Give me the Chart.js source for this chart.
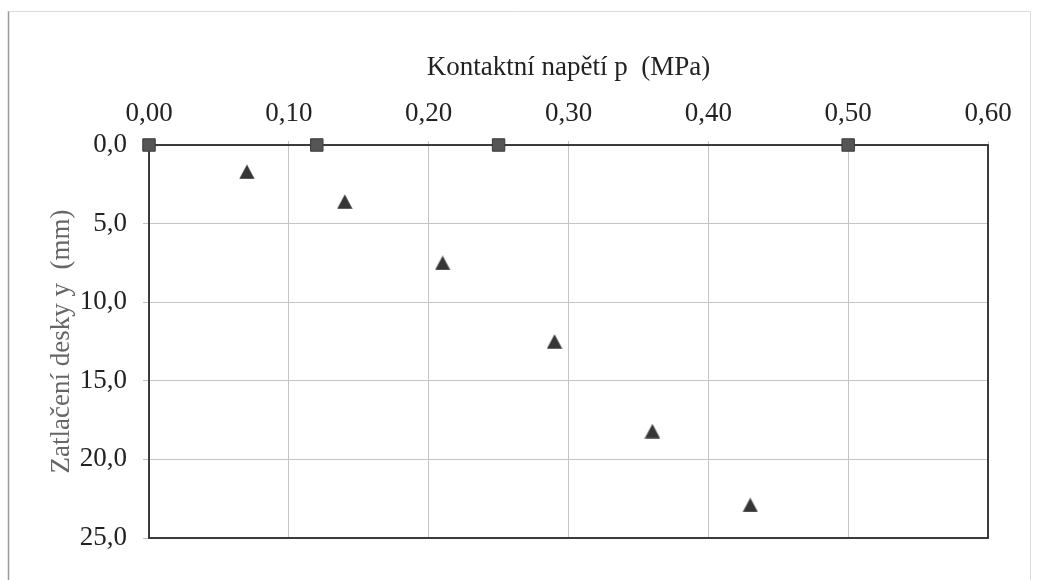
<!DOCTYPE html>
<html>
<head>
<meta charset="utf-8">
<script src="https://cdn.jsdelivr.net/npm/chart.js@4.4.1/dist/chart.umd.min.js"></script>
<style>
  html, body { margin: 0; padding: 0; background: #fff; }
  #wrap { width: 1037px; height: 580px; position: relative; }
</style>
</head>
<body>
<div id="wrap"><canvas id="c" width="1037" height="580"></canvas></div>
<script>
// Data
const pressureSquares = [0.00, 0.12, 0.25, 0.50];
const settlementSquares = [0, 0, 0, 0];
const pressureTriangles = [0.07, 0.14, 0.21, 0.29, 0.36, 0.43];
const settlementTriangles = [1.7, 3.6, 7.5, 12.5, 18.2, 22.9];
const xTitle = 'Kontaktní napětí p  (MPa)';
const yTitle = 'Zatlačení desky y  (mm)';

const toPts = (xs, ys) => xs.map((x, i) => ({ x: x, y: ys[i] }));

// Triangle marker centred on its bounding box (like the reference)
function makeTriangle(w, h, fill) {
  const cv = document.createElement('canvas');
  cv.width = w; cv.height = h;
  const g = cv.getContext('2d');
  g.fillStyle = fill;
  g.beginPath();
  g.moveTo(w / 2, 0.3);
  g.lineTo(w - 0.3, h - 0.3);
  g.lineTo(0.3, h - 0.3);
  g.closePath();
  g.fill();
  return cv;
}
const triMarker = makeTriangle(16, 15, '#363636');

const framePlugin = {
  id: 'frame',
  beforeDraw(chart) {
    const ctx = chart.ctx;
    ctx.save();
    ctx.fillStyle = '#ffffff';
    ctx.fillRect(0, 0, chart.width, chart.height);
    ctx.strokeStyle = '#9a9a9a';
    ctx.lineWidth = 1.5;
    ctx.beginPath();
    ctx.moveTo(8.5, 580);
    ctx.lineTo(8.5, 11);
    ctx.stroke();
    ctx.strokeStyle = '#dcdcdc';
    ctx.lineWidth = 1;
    ctx.beginPath();
    ctx.moveTo(8.5, 11.5);
    ctx.lineTo(1030.5, 11.5);
    ctx.lineTo(1030.5, 580);
    ctx.stroke();
    ctx.restore();
  },
  beforeDatasetsDraw(chart) {
    const a = chart.chartArea;
    const ctx = chart.ctx;
    ctx.save();
    ctx.strokeStyle = '#2a2a2a';
    ctx.lineWidth = 1.8;
    ctx.strokeRect(a.left, a.top, a.right - a.left, a.bottom - a.top);
    ctx.restore();
  }
};

new Chart(document.getElementById('c'), {
  type: 'scatter',
  data: {
    datasets: [
      {
        label: 'squares',
        data: toPts(pressureSquares, settlementSquares),
        pointStyle: 'rect',
        pointRadius: 8.8,
        pointHoverRadius: 8.8,
        backgroundColor: '#555555',
        borderColor: '#3a3a3a',
        borderWidth: 1,
        clip: false
      },
      {
        label: 'triangles',
        data: toPts(pressureTriangles, settlementTriangles),
        pointStyle: triMarker,
        pointRadius: 8,
        pointHoverRadius: 8,
        backgroundColor: '#363636',
        borderColor: '#363636',
        borderWidth: 0,
        clip: false
      }
    ]
  },
  options: {
    responsive: false,
    animation: false,
    devicePixelRatio: 1,
    layout: { padding: { left: 0, top: 0, right: 49, bottom: 42 } },
    plugins: {
      legend: { display: false },
      tooltip: { enabled: false },
      title: { display: false }
    },
    scales: {
      x: {
        type: 'linear',
        position: 'top',
        min: 0,
        max: 0.6,
        ticks: {
          stepSize: 0.1,
          padding: 11,
          color: '#222',
          font: { family: 'Liberation Serif', size: 27 },
          callback: v => Number(v).toFixed(2).replace('.', ',')
        },
        grid: { color: '#c4c4c4', lineWidth: 1, tickLength: 4, drawTicks: true },
        border: { display: false },
        title: {
          display: true,
          text: xTitle,
          color: '#222',
          font: { family: 'Liberation Serif', size: 27 },
          padding: { top: 52, bottom: 0 }
        },
        afterFit: s => { s.height = 145; }
      },
      y: {
        type: 'linear',
        position: 'left',
        reverse: true,
        min: 0,
        max: 25,
        ticks: {
          stepSize: 5,
          padding: 16,
          color: '#222',
          font: { family: 'Liberation Serif', size: 27 },
          callback: v => Number(v).toFixed(1).replace('.', ',')
        },
        grid: { color: '#c4c4c4', lineWidth: 1, tickLength: 6, drawTicks: true },
        border: { display: false },
        title: {
          display: true,
          text: yTitle,
          color: '#666',
          font: { family: 'Liberation Serif', size: 27 },
          padding: { top: 46, bottom: 0 }
        },
        afterFit: s => { s.width = 149; }
      }
    }
  },
  plugins: [framePlugin]
});
</script>
</body>
</html>
